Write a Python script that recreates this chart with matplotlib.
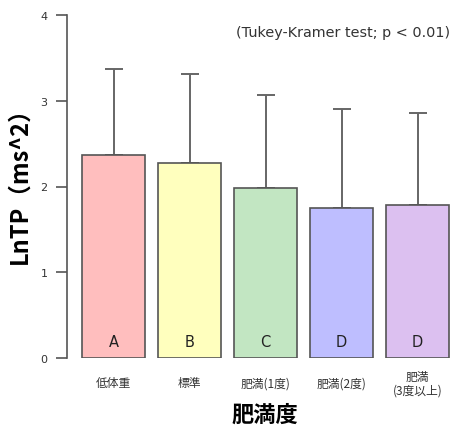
import matplotlib
matplotlib.use("Agg")
import matplotlib.pyplot as plt
import numpy as np

plt.rcParams['font.family'] = ['Noto Sans CJK JP', 'DejaVu Sans']

categories = ["低体重", "標準", "肥満(1度)", "肥満(2度)", "肥満\n(3度以上)"]
means = [2.37, 2.27, 1.98, 1.75, 1.78]
upper = [3.37, 3.31, 3.07, 2.90, 2.86]
groups = ["A", "B", "C", "D", "D"]
colors = ["#FFBEBE", "#FFFFBE", "#C2E6C2", "#BEBEFF", "#DCC0F0"]
yticks = [0, 1, 2, 3, 4]

W, H = 457, 427
fig = plt.figure(figsize=(W / 100, H / 100), dpi=100)
ax = fig.add_axes([67 / W, (H - 359) / H, 1 - 67 / W, (359 - 16) / H])

x = np.arange(len(categories))
err = np.array(upper) - np.array(means)
ax.errorbar(x, means, yerr=[np.zeros_like(err), err], fmt="none",
            ecolor="#666666", elinewidth=1.4, capsize=6.5, capthick=1.4, zorder=1)
ax.bar(x, means, width=63 / 76, color=colors, edgecolor="#555555",
       linewidth=1.2, zorder=2)

for xi, g in zip(x, groups):
    ax.text(xi, 0.19, g, ha="center", va="center", fontsize=10.5,
            family=["DejaVu Sans"], color="#222222", zorder=3)

ax.set_xlim((67 - 113.5) / 76, (457 - 113.5) / 76)
ax.set_ylim(0, 4)

for s in ["top", "right", "bottom"]:
    ax.spines[s].set_visible(False)
ax.spines["left"].set_color("#555555")
ax.spines["left"].set_linewidth(1.2)

ax.set_yticks(yticks)
ax.set_yticklabels([str(t) for t in yticks], fontsize=8, color="#333333",
                   family=["DejaVu Sans"])
ax.tick_params(axis="y", length=8, width=1.2, color="#555555", pad=6)
ax.set_xticks([])

for xi, c in zip(x, categories):
    ax.text(xi, -25 / 85.75, c, ha="center", va="center", fontsize=8.5,
            color="#333333", linespacing=1.05)

fig.text(265 / W, 1 - 415 / H, "肥満度", ha="center", va="center",
         fontsize=16, fontweight="bold")
fig.text(20 / W, 1 - 180 / H, "LnTP（ms^2）", ha="center", va="center",
         rotation=90, fontsize=17, fontweight="bold")
fig.text(450 / W, 1 - 33 / H, "(Tukey-Kramer test; p < 0.01)", ha="right",
         va="center", fontsize=10.4, color="#333333", family=["DejaVu Sans"])

fig.savefig("out.png", dpi=100)
